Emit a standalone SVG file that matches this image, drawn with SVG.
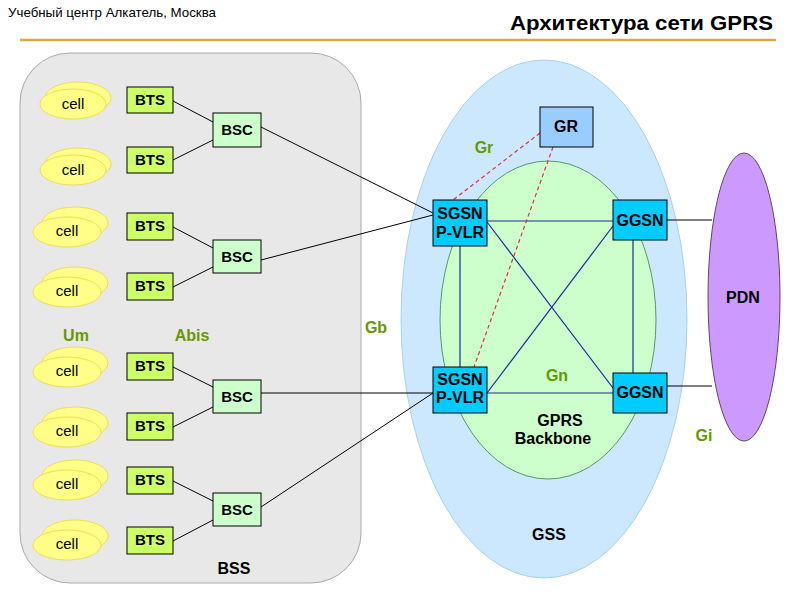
<svg xmlns="http://www.w3.org/2000/svg" width="800" height="600" viewBox="0 0 800 600">
<style>
text{font-family:"Liberation Sans",Arial,sans-serif;}
.cellb{fill:#FFFF88;stroke:#EEDD55;stroke-width:1}
.cellf{fill:#FFFF88;stroke:#EEDD55;stroke-width:1}
.ct{font-size:15px;fill:#000;text-anchor:middle}
.bts{fill:#CCFF66;stroke:#000;stroke-width:1}
.bsc{fill:#CCFFCC;stroke:#000;stroke-width:1}
.sg{fill:#00CCFF;stroke:#000;stroke-width:1}
.bt{font-size:15px;font-weight:bold;fill:#000;text-anchor:middle}
.bt2{font-size:16px;font-weight:bold;fill:#000;text-anchor:middle}
.lbl{font-size:16px;font-weight:bold;fill:#669900;text-anchor:middle}
.blk{stroke:#000;stroke-width:1;fill:none}
.blu{stroke:#1A2A9A;stroke-width:1.2;fill:none}
.red{stroke:#E03040;stroke-width:1.2;stroke-dasharray:4,3;fill:none}
</style>
<rect width="800" height="600" fill="#FFFFFF"/>
<text x="8" y="17" textLength="208" lengthAdjust="spacingAndGlyphs" style="font-size:13px;fill:#000">Учебный центр Алкатель, Москва</text>
<text x="510" y="30" textLength="263" lengthAdjust="spacingAndGlyphs" style="font-size:21px;font-weight:bold;fill:#000">Архитектура  сети GPRS</text>
<line x1="20" y1="40" x2="776" y2="40" stroke="#E0A840" stroke-width="2.5"/>

<g id="bss"><rect x="20" y="53" width="341" height="530" rx="50" ry="50" fill="#E8E8E8" stroke="#AAAAAA" stroke-width="1"/></g>
<g id="gss"><ellipse cx="544" cy="319" rx="143" ry="259" fill="#CCE8FF" stroke="#A8D0F0" stroke-width="1"/></g>
<g id="backbone"><ellipse cx="548" cy="320" rx="108" ry="159" fill="#CCFFCC" stroke="#559966" stroke-width="1"/></g>
<g id="pdn"><ellipse cx="744" cy="297" rx="36" ry="144" fill="#CC99FF" stroke="#664466" stroke-width="1"/></g>

<g id="connectors">
<line class="blk" x1="173" y1="101" x2="213" y2="122"/>
<line class="blk" x1="173" y1="160" x2="213" y2="140"/>
<line class="blk" x1="173" y1="227" x2="213" y2="248"/>
<line class="blk" x1="173" y1="287" x2="213" y2="267"/>
<line class="blk" x1="173" y1="367" x2="213" y2="387"/>
<line class="blk" x1="173" y1="427" x2="213" y2="407"/>
<line class="blk" x1="173" y1="481" x2="213" y2="501"/>
<line class="blk" x1="173" y1="541" x2="213" y2="520"/>
<line class="blk" x1="261" y1="127" x2="433" y2="213"/>
<line class="blk" x1="261" y1="260" x2="433" y2="215"/>
<line class="blk" x1="261" y1="393" x2="433" y2="393"/>
<line class="blk" x1="261" y1="507" x2="433" y2="393"/>
<line class="blk" x1="667" y1="220" x2="712" y2="220"/>
<line class="blk" x1="667" y1="386" x2="712" y2="386"/>
<line class="blu" x1="487" y1="221" x2="613" y2="221"/>
<line class="blu" x1="487" y1="393" x2="613" y2="393"/>
<line class="blu" x1="460" y1="246" x2="460" y2="367"/>
<line class="blu" x1="633" y1="240" x2="633" y2="373"/>
<line class="blu" x1="487" y1="222" x2="613" y2="388"/>
<line class="blu" x1="487" y1="393" x2="613" y2="226"/>
<line class="red" x1="540" y1="133" x2="453" y2="200"/>
<line class="red" x1="553" y1="147" x2="474" y2="367"/>
</g>

<g id="cell1"><ellipse class="cellb" cx="78" cy="98" rx="33" ry="16"/><ellipse class="cellf" cx="73" cy="104" rx="33" ry="15"/><text class="ct" x="73" y="109">cell</text></g>
<g id="cell2"><ellipse class="cellb" cx="78" cy="164" rx="33" ry="16"/><ellipse class="cellf" cx="73" cy="170" rx="33" ry="15"/><text class="ct" x="73" y="175">cell</text></g>
<g id="cell3"><ellipse class="cellb" cx="75" cy="223" rx="33" ry="16"/><ellipse class="cellf" cx="67" cy="232" rx="34" ry="15"/><text class="ct" x="67" y="236">cell</text></g>
<g id="cell4"><ellipse class="cellb" cx="75" cy="283" rx="33" ry="16"/><ellipse class="cellf" cx="67" cy="292" rx="34" ry="15"/><text class="ct" x="67" y="296">cell</text></g>
<g id="cell5"><ellipse class="cellb" cx="75" cy="363" rx="33" ry="16"/><ellipse class="cellf" cx="67" cy="372" rx="34" ry="15"/><text class="ct" x="67" y="376">cell</text></g>
<g id="cell6"><ellipse class="cellb" cx="75" cy="423" rx="33" ry="16"/><ellipse class="cellf" cx="67" cy="432" rx="34" ry="15"/><text class="ct" x="67" y="436">cell</text></g>
<g id="cell7"><ellipse class="cellb" cx="75" cy="476" rx="33" ry="16"/><ellipse class="cellf" cx="67" cy="485" rx="34" ry="15"/><text class="ct" x="67" y="489">cell</text></g>
<g id="cell8"><ellipse class="cellb" cx="75" cy="536" rx="33" ry="16"/><ellipse class="cellf" cx="67" cy="545" rx="34" ry="15"/><text class="ct" x="67" y="549">cell</text></g>

<g id="bts1"><rect class="bts" x="127" y="87" width="46" height="26"/><text class="bt" x="150" y="105">BTS</text></g>
<g id="bts2"><rect class="bts" x="127" y="147" width="46" height="26"/><text class="bt" x="150" y="165">BTS</text></g>
<g id="bts3"><rect class="bts" x="127" y="213" width="46" height="27"/><text class="bt" x="150" y="231">BTS</text></g>
<g id="bts4"><rect class="bts" x="127" y="273" width="46" height="27"/><text class="bt" x="150" y="291">BTS</text></g>
<g id="bts5"><rect class="bts" x="127" y="353" width="46" height="27"/><text class="bt" x="150" y="371">BTS</text></g>
<g id="bts6"><rect class="bts" x="127" y="413" width="46" height="27"/><text class="bt" x="150" y="431">BTS</text></g>
<g id="bts7"><rect class="bts" x="127" y="467" width="46" height="27"/><text class="bt" x="150" y="485">BTS</text></g>
<g id="bts8"><rect class="bts" x="127" y="527" width="46" height="27"/><text class="bt" x="150" y="545">BTS</text></g>

<g id="bsc1"><rect class="bsc" x="213" y="113" width="48" height="34"/><text class="bt" x="237" y="135">BSC</text></g>
<g id="bsc2"><rect class="bsc" x="213" y="240" width="48" height="33"/><text class="bt" x="237" y="262">BSC</text></g>
<g id="bsc3"><rect class="bsc" x="213" y="380" width="48" height="33"/><text class="bt" x="237" y="402">BSC</text></g>
<g id="bsc4"><rect class="bsc" x="213" y="493" width="48" height="33"/><text class="bt" x="237" y="515">BSC</text></g>

<g id="gr"><rect x="540" y="107" width="53" height="40" fill="#99CCFF" stroke="#000" stroke-width="1"/><text class="bt2" x="566" y="132">GR</text></g>
<g id="sgsn1"><rect class="sg" x="433" y="200" width="54" height="46"/><text class="bt2" x="460" y="219">SGSN</text><text class="bt2" x="460" y="238">P-VLR</text></g>
<g id="sgsn2"><rect class="sg" x="433" y="367" width="54" height="46"/><text class="bt2" x="460" y="385">SGSN</text><text class="bt2" x="460" y="403">P-VLR</text></g>
<g id="ggsn1"><rect class="sg" x="613" y="200" width="54" height="40"/><text class="bt2" x="640" y="226">GGSN</text></g>
<g id="ggsn2"><rect class="sg" x="613" y="373" width="54" height="40"/><text class="bt2" x="640" y="398">GGSN</text></g>

<text class="lbl" x="76" y="341">Um</text>
<text class="lbl" x="192" y="341">Abis</text>
<text class="lbl" x="376" y="333">Gb</text>
<text class="lbl" x="484" y="153">Gr</text>
<text class="lbl" x="557" y="381">Gn</text>
<text class="lbl" x="704" y="441">Gi</text>
<text class="bt2" x="560" y="426">GPRS</text>
<text class="bt2" x="553" y="444">Backbone</text>
<text class="bt2" x="743" y="303">PDN</text>
<text class="bt2" x="549" y="540">GSS</text>
<text class="bt2" x="234" y="574">BSS</text>
</svg>
